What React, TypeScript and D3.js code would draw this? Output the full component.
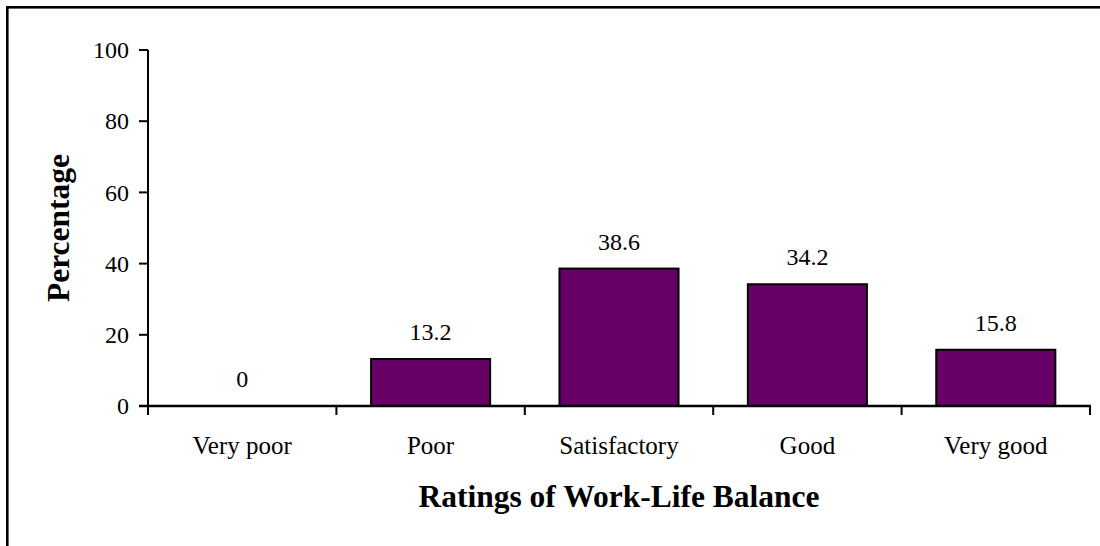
import React from "react";
import * as d3 from "d3";

const categories = ["Very poor", "Poor", "Satisfactory", "Good", "Very good"];
const values = [0, 13.2, 38.6, 34.2, 15.8];
const yTicks = [0, 20, 40, 60, 80, 100];

const W = 1100;
const H = 546;
const left = 148;
const right = 1090;
const top = 50;
const bottom = 406;
const FONT = "'Liberation Serif', 'Times New Roman', serif";

export default function App() {
  const x = d3.scaleBand<string>().domain(categories).range([left, right]).paddingInner(0).paddingOuter(0);
  const y = d3.scaleLinear().domain([0, 100]).range([bottom, top]);
  const bw = x.bandwidth();
  const barW = bw * 0.632;
  const boundaries = d3.range(categories.length + 1).map((i) => left + i * bw);

  return (
    <svg
      width={W}
      height={H}
      style={{ position: "absolute", left: 0, top: 0, background: "#fff" }}
      fontFamily={FONT}
    >
      <rect x={0} y={0} width={W} height={H} fill="#fff" />
      <rect x={7.3} y={7.3} width={1300} height={700} fill="none" stroke="#000" strokeWidth={2.6} />

      {/* bars */}
      {categories.map((c, i) => {
        const cx = (x(c) as number) + bw / 2;
        const v = values[i];
        return (
          <g key={c}>
            {v > 0 && (
              <rect
                x={cx - barW / 2}
                y={y(v)}
                width={barW}
                height={y(0) - y(v)}
                fill="#660066"
                stroke="#000"
                strokeWidth={2}
              />
            )}
            <text x={cx} y={y(v) - 19} textAnchor="middle" fontSize={24} fill="#000">
              {String(v)}
            </text>
            <text x={cx} y={454} textAnchor="middle" fontSize={25} fill="#000">
              {c}
            </text>
          </g>
        );
      })}

      {/* y axis */}
      <line x1={left} x2={left} y1={top} y2={bottom} stroke="#000" strokeWidth={2} />
      {yTicks.map((t) => (
        <g key={t}>
          <line x1={139} x2={left} y1={y(t)} y2={y(t)} stroke="#000" strokeWidth={2} />
          <text x={129} y={y(t)} dy="0.34em" textAnchor="end" fontSize={24} fill="#000">
            {t}
          </text>
        </g>
      ))}

      {/* x axis */}
      <line x1={139} x2={right + 1} y1={bottom} y2={bottom} stroke="#000" strokeWidth={2.4} />
      {boundaries.map((bx, i) => (
        <line key={i} x1={bx} x2={bx} y1={bottom} y2={bottom + 9} stroke="#000" strokeWidth={2} />
      ))}

      {/* titles */}
      <text x={(left + right) / 2} y={507} textAnchor="middle" fontSize={31.5} fontWeight="bold" fill="#000">
        Ratings of Work-Life Balance
      </text>
      <text
        transform={`translate(69, ${(top + bottom) / 2}) rotate(-90)`}
        textAnchor="middle"
        fontSize={31.5}
        fontWeight="bold"
        fill="#000"
      >
        Percentage
      </text>
    </svg>
  );
}
